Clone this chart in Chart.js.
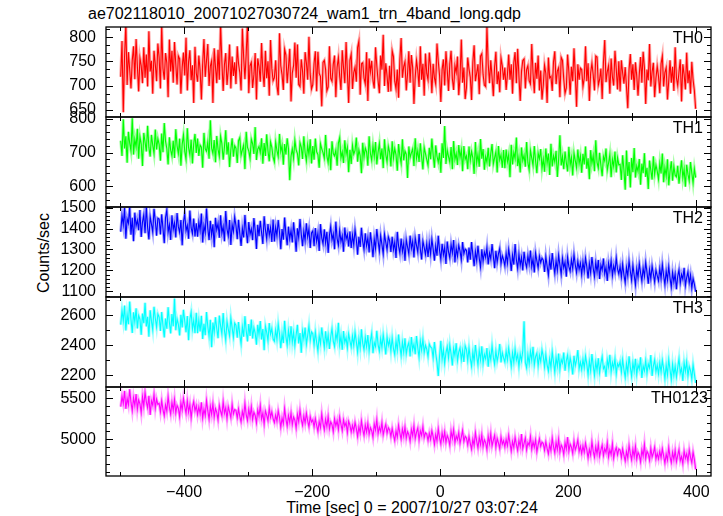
<!DOCTYPE html>
<html>
<head>
<meta charset="utf-8">
<script src="https://cdn.jsdelivr.net/npm/chart.js@4.4.0/dist/chart.umd.min.js"></script>
<style>
    body { margin: 0; background: #fff; }
    #wrap { position: relative; width: 723px; height: 516px; overflow: hidden; font-family: "Liberation Sans", Arial, sans-serif; color: #000; }
    .panel { position: absolute; left: 0; width: 723px; }
    .lbl { position: absolute; font-size: 16px; white-space: nowrap; line-height: normal; }
</style>
</head>
<body>
<div id="wrap">
    <div class="lbl" style="left:88px;top:5px;">ae702118010_20071027030724_wam1_trn_4band_long.qdp</div>
    <div class="lbl" style="left:412px;top:499px;transform:translateX(-50%);">Time [sec] 0 = 2007/10/27 03:07:24</div>
    <div class="lbl" style="left:44px;top:253px;transform:translate(-50%,-50%) rotate(-90deg);">Counts/sec</div>
</div>
<script>
// light curve bins: 2 s steps from -499 s to 399 s
const tStart = -499, tStep = 2, nBins = 450;
const times = [];
for (let i = 0; i < nBins; i++) times.push(tStart + i * tStep);

const xTicks = [-500, -400, -300, -200, -100, 0, 100, 200, 300, 400];

// counts/sec (one row = 60 s)
const th0 = [
    718, 792, 645, 760, 828, 701, 769, 733, 694, 752, 781, 713, 796, 740, 688, 757, 741, 705, 779, 716, 764, 698, 812, 729, 751, 683, 772, 744, 709, 787,
    758, 694, 824, 735, 712, 767, 747, 676, 795, 729, 772, 706, 790, 744, 702, 761, 755, 683, 738, 768, 721, 799, 690, 749, 773, 711, 742, 664, 780, 726,
    708, 762, 731, 671, 745, 796, 718, 752, 786, 699, 740, 751, 664, 777, 738, 705, 774, 712, 826, 749, 689, 743, 767, 701, 733, 785, 694, 760, 720, 748,
    703, 781, 745, 727, 690, 818, 759, 713, 766, 830, 684, 741, 748, 695, 722, 767, 671, 756, 739, 708, 788, 728, 697, 772, 715, 750, 679, 794, 736, 710,
    716, 752, 699, 680, 808, 741, 722, 691, 775, 763, 705, 738, 776, 667, 726, 741, 789, 716, 785, 702, 698, 754, 730, 683, 769, 747, 712, 801, 724, 693,
    702, 746, 771, 688, 770, 725, 719, 657, 748, 752, 733, 689, 697, 781, 715, 709, 744, 762, 676, 738, 758, 720, 691, 773, 737, 705, 790, 728, 664, 752,
    765, 693, 727, 738, 708, 779, 792, 681, 745, 747, 715, 703, 769, 668, 756, 728, 751, 710, 694, 779, 741, 710, 684, 762, 733, 805, 699, 746, 720, 687,
    741, 688, 772, 760, 709, 693, 733, 675, 754, 798, 716, 739, 749, 690, 724, 771, 706, 763, 737, 662, 718, 752, 731, 697, 781, 712, 745, 679, 766, 725,
    712, 768, 739, 684, 745, 716, 703, 787, 750, 721, 666, 733, 754, 700, 771, 732, 689, 745, 772, 714, 691, 741, 727, 760, 680, 718, 795, 706, 737, 672,
    695, 758, 734, 717, 670, 748, 783, 709, 726, 744, 682, 761, 766, 723, 701, 698, 822, 745, 705, 752, 718, 678, 739, 770, 703, 729, 686, 757, 741, 712,
    737, 691, 722, 764, 712, 744, 683, 748, 769, 705, 776, 719, 668, 729, 752, 755, 694, 733, 741, 710, 703, 786, 726, 684, 747, 714, 762, 690, 731, 671,
    700, 742, 725, 664, 758, 716, 719, 689, 749, 771, 703, 730, 737, 676, 758, 752, 713, 684, 695, 764, 728, 681, 739, 709, 777, 723, 656, 744, 712, 736,
    733, 698, 715, 781, 709, 746, 668, 726, 746, 722, 690, 761, 759, 701, 712, 735, 672, 748, 794, 707, 729, 741, 683, 756, 718, 700, 772, 734, 692, 750,
    688, 752, 726, 704, 738, 697, 653, 733, 765, 712, 744, 691, 748, 720, 679, 724, 759, 706, 770, 737, 662, 733, 711, 786, 698, 728, 747, 676, 715, 740,
    719, 684, 745, 761, 698, 727, 737, 671, 710, 752, 706, 739, 689, 779, 716, 700, 728, 754, 667, 744, 723, 692, 768, 705, 731, 683, 749, 712, 690, 652
];
const th1 = [
    735, 690, 798, 712, 748, 670, 761, 728, 705, 801, 694, 739, 716, 770, 682, 747, 725, 660, 758, 731, 703, 779, 715, 688, 752, 722, 697, 768, 709, 741,
    724, 676, 756, 701, 787, 733, 712, 665, 745, 707, 690, 735, 684, 769, 720, 697, 741, 661, 725, 752, 703, 680, 772, 714, 693, 738, 668, 726, 755, 699,
    741, 690, 722, 716, 655, 758, 711, 704, 731, 682, 795, 713, 697, 737, 671, 749, 710, 688, 748, 726, 679, 716, 766, 694, 730, 657, 709, 742, 688, 720,
    713, 669, 735, 744, 692, 708, 722, 651, 761, 715, 705, 683, 739, 726, 696, 775, 678, 710, 718, 700, 742, 667, 728, 690, 754, 705, 674, 731, 715, 686,
    672, 731, 706, 688, 755, 703, 721, 664, 725, 694, 742, 711, 618, 689, 711, 683, 736, 708, 697, 662, 729, 716, 681, 748, 700, 675, 722, 693, 739, 668,
    719, 679, 741, 702, 694, 655, 726, 711, 700, 683, 752, 690, 670, 712, 648, 733, 697, 690, 707, 661, 728, 744, 684, 702, 669, 736, 695, 715, 642, 708,
    666, 721, 695, 706, 744, 673, 708, 691, 639, 729, 686, 713, 702, 661, 748, 697, 677, 720, 688, 731, 665, 701, 727, 680, 712, 654, 739, 694, 672, 718,
    701, 659, 733, 684, 712, 693, 646, 725, 690, 668, 739, 677, 704, 695, 625, 718, 685, 699, 711, 660, 742, 683, 706, 672, 727, 688, 650, 715, 697, 679,
    662, 714, 680, 741, 693, 655, 721, 689, 671, 699, 640, 727, 684, 778, 666, 707, 688, 672, 716, 651, 734, 679, 697, 663, 722, 685, 708, 645, 719, 680,
    690, 651, 718, 676, 703, 684, 637, 731, 669, 695, 658, 740, 682, 710, 649, 688, 671, 714, 659, 697, 725, 666, 684, 702, 641, 719, 678, 693, 655, 707,
    654, 709, 673, 694, 627, 723, 665, 700, 682, 744, 660, 687, 641, 715, 676, 692, 658, 731, 670, 648, 706, 684, 662, 719, 675, 639, 698, 681, 710, 653,
    681, 643, 712, 668, 697, 634, 726, 659, 690, 672, 705, 628, 679, 751, 662, 688, 651, 703, 670, 644, 717, 663, 685, 632, 698, 676, 655, 709, 667, 690,
    640, 696, 665, 718, 652, 683, 621, 707, 668, 691, 645, 736, 671, 654, 699, 662, 630, 688, 675, 712, 648, 669, 694, 627, 680, 659, 703, 641, 685, 664,
    665, 619, 692, 649, 590, 706, 631, 672, 597, 684, 642, 713, 626, 660, 644, 681, 605, 667, 639, 698, 628, 655, 592, 676, 648, 620, 689, 636, 663, 645,
    621, 668, 638, 697, 612, 655, 630, 680, 603, 645, 674, 617, 659, 633, 628, 661, 608, 642, 677, 625, 651, 599, 664, 636, 616, 672, 640, 610, 652, 626
];
const th2 = [
    1385, 1462, 1418, 1498, 1352, 1447, 1425, 1505, 1371, 1452, 1340, 1476, 1412, 1440, 1392, 1488, 1360, 1431, 1465, 1378, 1503, 1405, 1348, 1456, 1421, 1383, 1494, 1437, 1366, 1449,
    1445, 1372, 1468, 1401, 1330, 1452, 1489, 1383, 1418, 1346, 1463, 1395, 1427, 1358, 1474, 1409, 1382, 1441, 1320, 1432, 1470, 1389, 1415, 1351, 1486, 1403, 1376, 1448, 1362, 1425,
    1361, 1432, 1390, 1472, 1333, 1415, 1380, 1496, 1402, 1345, 1437, 1368, 1420, 1311, 1451, 1394, 1425, 1356, 1463, 1377, 1410, 1339, 1484, 1398, 1364, 1441, 1322, 1419, 1385, 1455,
    1414, 1349, 1442, 1376, 1317, 1401, 1358, 1465, 1389, 1330, 1431, 1372, 1398, 1345, 1450, 1392, 1303, 1418, 1364, 1437, 1380, 1326, 1459, 1395, 1351, 1422, 1368, 1405, 1336, 1443,
    1338, 1406, 1365, 1441, 1382, 1301, 1398, 1347, 1453, 1376, 1320, 1409, 1351, 1392, 1334, 1430, 1368, 1289, 1401, 1357, 1446, 1373, 1316, 1388, 1342, 1425, 1360, 1398, 1307, 1379,
    1389, 1316, 1402, 1339, 1378, 1293, 1421, 1355, 1327, 1396, 1332, 1384, 1284, 1368, 1410, 1346, 1375, 1301, 1433, 1352, 1320, 1391, 1338, 1366, 1289, 1405, 1349, 1372, 1314, 1386,
    1307, 1369, 1321, 1395, 1348, 1275, 1361, 1312, 1404, 1339, 1300, 1377, 1318, 1356, 1286, 1382, 1329, 1263, 1350, 1305, 1398, 1341, 1292, 1366, 1323, 1279, 1372, 1335, 1298, 1360,
    1342, 1288, 1361, 1299, 1335, 1260, 1384, 1316, 1283, 1352, 1291, 1330, 1246, 1347, 1312, 1279, 1366, 1305, 1338, 1262, 1355, 1320, 1287, 1374, 1301, 1252, 1340, 1310, 1276, 1328,
    1264, 1331, 1278, 1349, 1302, 1247, 1318, 1270, 1366, 1295, 1253, 1327, 1274, 1310, 1231, 1338, 1289, 1260, 1324, 1283, 1345, 1238, 1307, 1268, 1320, 1292, 1250, 1335, 1279, 1302,
    1296, 1238, 1309, 1251, 1335, 1276, 1220, 1290, 1247, 1318, 1258, 1216, 1301, 1244, 1287, 1262, 1310, 1229, 1283, 1255, 1326, 1268, 1211, 1294, 1240, 1279, 1305, 1232, 1270, 1252,
    1222, 1281, 1234, 1301, 1259, 1197, 1273, 1228, 1326, 1251, 1209, 1278, 1225, 1262, 1200, 1289, 1240, 1215, 1270, 1231, 1295, 1218, 1256, 1190, 1283, 1246, 1212, 1268, 1237, 1259,
    1249, 1193, 1266, 1221, 1178, 1254, 1204, 1283, 1229, 1186, 1247, 1200, 1273, 1225, 1181, 1258, 1212, 1240, 1170, 1263, 1218, 1196, 1251, 1209, 1276, 1227, 1189, 1244, 1205, 1234,
    1180, 1241, 1196, 1259, 1218, 1162, 1233, 1189, 1264, 1211, 1170, 1238, 1193, 1250, 1159, 1226, 1201, 1257, 1184, 1216, 1150, 1235, 1198, 1246, 1175, 1222, 1192, 1260, 1207, 1183,
    1219, 1168, 1230, 1179, 1141, 1214, 1173, 1245, 1196, 1153, 1225, 1177, 1130, 1208, 1166, 1233, 1188, 1149, 1212, 1171, 1239, 1192, 1136, 1205, 1160, 1221, 1183, 1144, 1202, 1175,
    1150, 1209, 1161, 1228, 1176, 1132, 1197, 1154, 1218, 1163, 1120, 1190, 1145, 1184, 1110, 1172, 1203, 1139, 1181, 1158, 1212, 1127, 1166, 1193, 1140, 1178, 1115, 1162, 1135, 1098
];
const th3 = [
    2538, 2631, 2563, 2665, 2499, 2607, 2540, 2692, 2571, 2482, 2620, 2555, 2646, 2513, 2599, 2574, 2470, 2612, 2548, 2683, 2526, 2590, 2458, 2634, 2561, 2503, 2657, 2580, 2521, 2609,
    2588, 2496, 2622, 2531, 2453, 2579, 2510, 2654, 2552, 2479, 2608, 2527, 2711, 2500, 2576, 2540, 2466, 2603, 2519, 2637, 2561, 2487, 2595, 2434, 2574, 2622, 2508, 2566, 2481, 2617,
    2481, 2567, 2493, 2596, 2442, 2544, 2468, 2621, 2525, 2459, 2570, 2388, 2551, 2486, 2587, 2512, 2447, 2598, 2530, 2476, 2615, 2499, 2435, 2560, 2507, 2463, 2582, 2518, 2452, 2548,
    2533, 2451, 2555, 2470, 2409, 2522, 2458, 2594, 2497, 2426, 2541, 2463, 2572, 2445, 2518, 2482, 2404, 2536, 2471, 2561, 2439, 2509, 2367, 2527, 2486, 2430, 2548, 2475, 2512, 2441,
    2427, 2502, 2439, 2541, 2475, 2381, 2476, 2415, 2563, 2458, 2400, 2499, 2430, 2527, 2421, 2486, 2398, 2470, 2536, 2412, 2481, 2350, 2495, 2442, 2518, 2406, 2464, 2530, 2433, 2489,
    2478, 2403, 2489, 2420, 2362, 2465, 2411, 2519, 2446, 2385, 2493, 2408, 2470, 2376, 2457, 2512, 2428, 2391, 2482, 2436, 2550, 2402, 2461, 2370, 2495, 2419, 2451, 2383, 2477, 2430,
    2388, 2461, 2399, 2487, 2425, 2353, 2446, 2382, 2506, 2415, 2370, 2453, 2391, 2468, 2362, 2430, 2479, 2347, 2418, 2392, 2497, 2405, 2361, 2444, 2386, 2471, 2410, 2339, 2456, 2398,
    2434, 2361, 2450, 2378, 2338, 2429, 2366, 2472, 2393, 2331, 2421, 2355, 2446, 2343, 2392, 2418, 2326, 2455, 2371, 2408, 2340, 2462, 2384, 2319, 2427, 2369, 2441, 2352, 2400, 2375,
    2324, 2408, 2389, 2381, 2315, 2422, 2347, 2286, 2195, 2328, 2430, 2308, 2371, 2279, 2350, 2392, 2316, 2403, 2342, 2265, 2378, 2331, 2414, 2297, 2355, 2383, 2304, 2366, 2289, 2397,
    2371, 2297, 2384, 2312, 2260, 2355, 2291, 2402, 2329, 2268, 2366, 2302, 2393, 2280, 2340, 2310, 2381, 2257, 2349, 2305, 2398, 2321, 2274, 2362, 2295, 2338, 2409, 2286, 2351, 2316,
    2288, 2360, 2302, 2381, 2321, 2259, 2350, 2286, 2375, 2303, 2338, 2258, 2341, 2296, 2364, 2560, 2285, 2249, 2337, 2276, 2359, 2301, 2390, 2270, 2325, 2348, 2262, 2334, 2292, 2370,
    2326, 2255, 2339, 2270, 2228, 2311, 2252, 2357, 2288, 2221, 2319, 2260, 2345, 2239, 2306, 2281, 2352, 2230, 2298, 2334, 2247, 2316, 2271, 2205, 2330, 2264, 2301, 2368, 2243, 2287,
    2238, 2307, 2249, 2328, 2274, 2203, 2295, 2230, 2341, 2266, 2199, 2290, 2233, 2314, 2217, 2280, 2325, 2244, 2261, 2190, 2302, 2256, 2336, 2222, 2285, 2247, 2311, 2209, 2277, 2258,
    2291, 2222, 2305, 2237, 2186, 2278, 2219, 2326, 2252, 2193, 2284, 2228, 2310, 2205, 2270, 2241, 2320, 2183, 2263, 2230, 2299, 2212, 2275, 2248, 2335, 2196, 2262, 2303, 2225, 2268,
    2209, 2282, 2221, 2300, 2244, 2178, 2268, 2203, 2306, 2237, 2172, 2273, 2200, 2261, 2188, 2251, 2312, 2215, 2246, 2163, 2283, 2226, 2290, 2195, 2258, 2231, 2176, 2270, 2210, 2150
];
const th0123 = [
    5398, 5522, 5435, 5590, 5371, 5498, 5420, 5611, 5452, 5345, 5507, 5412, 5551, 5367, 5480, 5433, 5322, 5516, 5401, 5573, 5456, 5384, 5529, 5296, 5468, 5415, 5548, 5378, 5490, 5426,
    5436, 5333, 5471, 5360, 5285, 5418, 5342, 5522, 5389, 5308, 5450, 5351, 5486, 5320, 5412, 5377, 5275, 5445, 5356, 5497, 5402, 5316, 5468, 5331, 5423, 5261, 5391, 5459, 5346, 5410,
    5299, 5395, 5312, 5450, 5258, 5367, 5291, 5472, 5348, 5244, 5401, 5306, 5433, 5270, 5375, 5328, 5236, 5412, 5341, 5287, 5458, 5319, 5382, 5251, 5396, 5333, 5264, 5427, 5310, 5362,
    5352, 5260, 5371, 5278, 5209, 5340, 5264, 5438, 5301, 5228, 5366, 5272, 5398, 5241, 5329, 5290, 5197, 5357, 5283, 5412, 5246, 5318, 5183, 5345, 5295, 5226, 5380, 5268, 5334, 5252,
    5202, 5293, 5220, 5346, 5265, 5146, 5258, 5189, 5374, 5247, 5160, 5289, 5206, 5321, 5178, 5270, 5231, 5133, 5302, 5215, 5355, 5240, 5168, 5283, 5197, 5318, 5224, 5152, 5276, 5209,
    5237, 5149, 5253, 5170, 5095, 5216, 5142, 5308, 5191, 5111, 5242, 5154, 5280, 5128, 5211, 5176, 5089, 5249, 5163, 5225, 5117, 5271, 5182, 5104, 5236, 5158, 5203, 5080, 5218, 5172,
    5086, 5168, 5098, 5206, 5131, 5032, 5154, 5077, 5225, 5119, 5045, 5172, 5089, 5193, 5060, 5140, 5103, 5021, 5185, 5112, 5238, 5067, 5148, 5093, 5203, 5054, 5126, 5180, 5072, 5139,
    5113, 5031, 5132, 5050, 4981, 5099, 5025, 5170, 5074, 4998, 5122, 5038, 5149, 5012, 5091, 5055, 4973, 5118, 5043, 5163, 5007, 5084, 5136, 4990, 5102, 5047, 5155, 5019, 5077, 5063,
    4983, 5071, 4997, 5104, 5032, 4936, 5056, 4979, 5128, 5015, 4942, 5076, 4988, 5089, 4960, 5044, 5003, 4925, 5097, 5011, 5118, 4954, 5039, 4992, 5081, 4947, 5026, 5108, 4971, 5035,
    5014, 4928, 5031, 4949, 4877, 5000, 4921, 5079, 4976, 4892, 5021, 4935, 5053, 4909, 4993, 4958, 4870, 5037, 4944, 5066, 4917, 4986, 5046, 4899, 5008, 4953, 4884, 5027, 4938, 4981,
    4905, 4997, 4920, 5048, 4952, 4853, 4971, 4898, 5022, 4936, 4861, 4985, 4910, 5061, 4884, 4947, 5014, 4869, 4958, 4925, 5033, 4876, 4968, 4901, 4992, 4844, 4930, 5006, 4912, 4963,
    4946, 4864, 4968, 4887, 4819, 4933, 4858, 5015, 4909, 4833, 4960, 4872, 5001, 4841, 4927, 4895, 4812, 4955, 4880, 5024, 4851, 4938, 4902, 4826, 4974, 4869, 4919, 4990, 4848, 4911,
    4823, 4915, 4839, 4951, 4872, 4771, 4876, 4805, 4968, 4853, 4780, 4904, 4817, 4939, 4791, 4866, 4928, 4798, 4884, 4836, 4957, 4782, 4870, 4812, 4943, 4767, 4852, 4897, 4808, 4879,
    4867, 4776, 4881, 4800, 4732, 4848, 4769, 4925, 4822, 4746, 4876, 4787, 4912, 4755, 4839, 4803, 4721, 4868, 4794, 4935, 4762, 4851, 4818, 4740, 4889, 4781, 4830, 4901, 4758, 4826,
    4758, 4849, 4771, 4882, 4796, 4705, 4816, 4742, 4899, 4783, 4711, 4837, 4750, 4862, 4724, 4801, 4873, 4737, 4786, 4698, 4855, 4765, 4820, 4729, 4868, 4776, 4712, 4841, 4754, 4630
];

// panel names, y ranges and tick spacing
const names = ['TH0', 'TH1', 'TH2', 'TH3', 'TH0123'];
const series = [th0, th1, th2, th3, th0123];
const colors = ['#ff0000', '#00ff00', '#0000ff', '#00ffff', '#ff00ff'];
const halos = ['rgba(255,0,0,0.35)', 'rgba(0,255,0,0.35)', 'rgba(0,0,255,0.35)', 'rgba(0,255,255,0.35)', 'rgba(255,0,255,0.35)'];
const yMin = [635, 539, 1073, 2122, 4549];
const yMax = [821, 805, 1503, 2722, 5638];
const yMajor = [50, 100, 100, 200, 500];
const yMinor = [50 / 3, 20, 20, 100, 100];

const panelTop = [27, 117, 207, 297, 387];
const panelH = [90, 90, 90, 90, 89];
const PAD = 12;
const FONT = '16px "Liberation Sans", Arial, sans-serif';

// frame, inward ticks and labels drawn from the chart's own scales
const qdpFrame = {
    id: 'qdpFrame',
    afterDatasetsDraw(chart) {
        const o = chart.options.plugins.qdpFrame;
        const ctx = chart.ctx, a = chart.chartArea;
        const x = chart.scales.x, y = chart.scales.y;
        ctx.save();
        ctx.strokeStyle = '#000';
        ctx.fillStyle = '#000';
        ctx.lineWidth = 1;

        // y ticks both sides
        for (let k = Math.ceil(y.min / o.minor - 1e-9); k * o.minor <= y.max + 1e-9; k++) {
            const v = k * o.minor;
            const isMajor = Math.abs(v / o.major - Math.round(v / o.major)) < 1e-6;
            const py = Math.round(y.getPixelForValue(v)) + 0.5;
            const len = isMajor ? 7 : 4;
            ctx.beginPath();
            ctx.moveTo(a.left, py); ctx.lineTo(a.left + len, py);
            ctx.moveTo(a.right, py); ctx.lineTo(a.right - len, py);
            ctx.stroke();
        }
        // x ticks top and bottom
        xTicks.forEach(t => {
            const px = Math.round(x.getPixelForValue(t)) + 0.5;
            const len = (t % 200 === 0) ? 7 : 4;
            ctx.beginPath();
            ctx.moveTo(px, a.top); ctx.lineTo(px, a.top + len);
            ctx.moveTo(px, a.bottom); ctx.lineTo(px, a.bottom - len);
            ctx.stroke();
        });

        ctx.lineWidth = 1.3;
        ctx.strokeRect(a.left, a.top, a.right - a.left, a.bottom - a.top);

        ctx.font = FONT;
        // y labels
        ctx.textAlign = 'right';
        ctx.textBaseline = 'middle';
        for (let k = Math.ceil(y.min / o.major); k * o.major <= y.max; k++) {
            const v = k * o.major;
            ctx.fillText(String(v), a.left - 10, y.getPixelForValue(v));
        }
        // panel name
        ctx.textBaseline = 'alphabetic';
        ctx.fillText(o.name, o.nameX, a.top + 16);
        // x labels under last panel
        if (o.xLabels) {
            ctx.textAlign = 'center';
            xTicks.filter(t => t % 200 === 0).forEach(t => {
                const s = t < 0 ? '\u2212' + Math.abs(t) : String(t);
                ctx.fillText(s, x.getPixelForValue(t), a.bottom + 21);
            });
        }
        ctx.restore();
    }
};

document.addEventListener('DOMContentLoaded', function () {
    const wrap = document.getElementById('wrap');
    names.forEach((name, i) => {
        const last = i === names.length - 1;
        const bottomPad = last ? 32 : PAD;
        const box = document.createElement('div');
        box.className = 'panel';
        box.style.top = (panelTop[i] - PAD) + 'px';
        box.style.height = (panelH[i] + PAD + bottomPad) + 'px';
        const cv = document.createElement('canvas');
        box.appendChild(cv);
        wrap.appendChild(box);

        const pts = times.map((t, j) => ({ x: t, y: series[i][j] }));
        new Chart(cv.getContext('2d'), {
            type: 'line',
            data: {
                datasets: [{
                    data: pts,
                    borderColor: colors[i],
                    borderWidth: 1.1,
                    pointRadius: 0,
                    tension: 0,
                    fill: false
                }, {
                    // pale band under the curve, like the error bars in the original
                    data: pts,
                    borderColor: halos[i],
                    borderWidth: 3,
                    pointRadius: 0,
                    tension: 0,
                    fill: false
                }]
            },
            options: {
                responsive: true,
                maintainAspectRatio: false,
                animation: false,
                events: [],
                layout: { padding: { left: 106, right: 12, top: PAD, bottom: bottomPad } },
                plugins: {
                    legend: { display: false },
                    tooltip: { enabled: false },
                    qdpFrame: {
                        name: name,
                        nameX: last ? 708 : 703,
                        major: yMajor[i],
                        minor: yMinor[i],
                        xLabels: last
                    }
                },
                scales: {
                    x: { type: 'linear', min: -522, max: 423, display: false },
                    y: { type: 'linear', min: yMin[i], max: yMax[i], display: false }
                }
            },
            plugins: [qdpFrame]
        });
    });
});
</script>
</body>
</html>
